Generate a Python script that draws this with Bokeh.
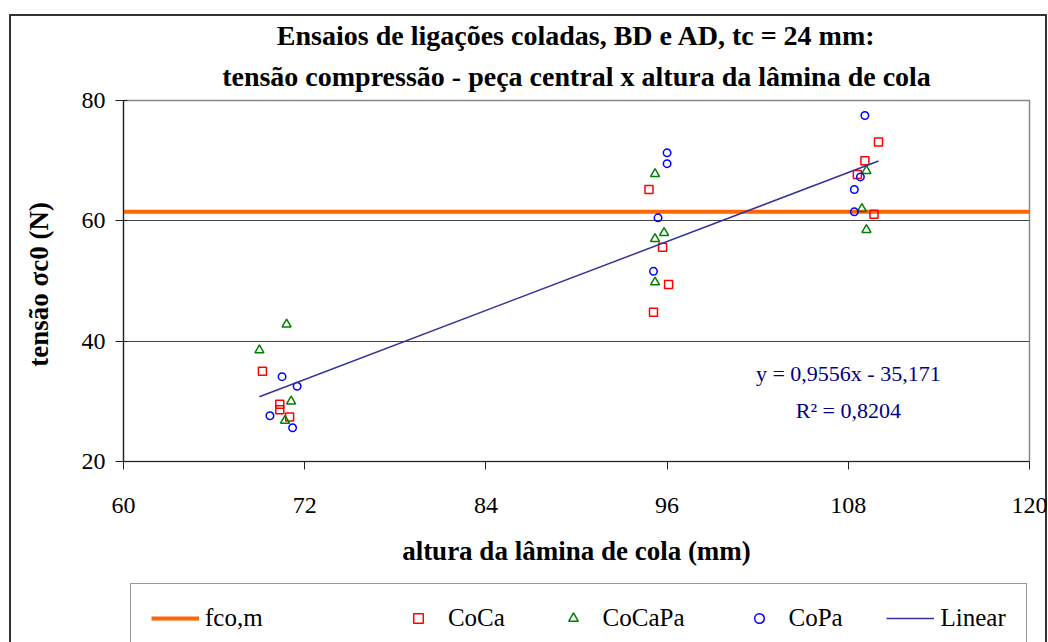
import numpy as np
from bokeh.plotting import figure
from bokeh.layouts import column
from bokeh.models import Range1d, Label, Legend, LegendItem, FixedTicker, Title
from bokeh.embed import file_html
from bokeh.resources import INLINE

# ---------------- data ----------------
title_lines = ["Ensaios de ligações coladas, BD e AD, tc = 24 mm:",
               "tensão compressão - peça central x altura da lâmina de cola"]
x_label = "altura da lâmina de cola (mm)"
y_label = "tensão σc0  (N)"
series_names = ["fco,m", "CoCa", "CoCaPa", "CoPa", "Linear"]

coca_x = [69.2, 70.35, 70.35, 71.0, 94.8, 95.7, 96.1, 95.1, 110.0, 109.1, 108.6, 109.7]
coca_y = [35.0, 29.5, 28.6, 27.4, 65.2, 55.6, 49.4, 44.8, 73.1, 70.0, 67.7, 61.1]
cocapa_x = [70.8, 69.0, 71.1, 70.7, 95.2, 95.8, 95.2, 95.2, 109.2, 108.9, 109.2]
cocapa_y = [42.8, 38.5, 30.0, 26.8, 67.8, 58.0, 57.0, 49.8, 68.3, 62.0, 58.5]
copa_x = [70.5, 71.5, 69.7, 71.2, 96.0, 96.0, 95.4, 95.1, 109.1, 108.8, 108.4, 108.4]
copa_y = [34.1, 32.5, 27.6, 25.6, 71.3, 69.5, 60.5, 51.6, 77.5, 67.3, 65.2, 61.5]
fco_m = 61.5
slope = 0.9556
intercept = -35.171
r2 = 0.8204
x_ticks = [60, 72, 84, 96, 108, 120]
y_ticks = [20, 40, 60, 80]
x_lo, x_hi = 60, 120
y_lo, y_hi = 20, 80

SERIF = "Liberation Serif"
LINE = "linear-gradient(#333,#333)"

# outer chart frame drawn as CSS background lines behind the (transparent) canvases
css_top = {
    "background-image": f"{LINE}, {LINE}, {LINE}",
    "background-size": "2px 700px, 1038px 2px, 2px 700px",
    "background-position": "9px 14px, 9px 14px, 1045px 14px",
    "background-repeat": "no-repeat",
}
css_bottom = {
    "background-image": f"{LINE}, {LINE}",
    "background-size": "2px 200px, 2px 200px",
    "background-position": "9px 0px, 1045px 0px",
    "background-repeat": "no-repeat",
}

p = figure(width=1048, height=575, output_backend="svg", toolbar_location=None,
           x_range=Range1d(x_lo, x_hi), y_range=Range1d(y_lo, y_hi),
           min_border_left=123, min_border_right=19, min_border_top=100, min_border_bottom=114,
           styles=css_top)
p.background_fill_color = "white"
p.border_fill_alpha = 0
p.outline_line_color = "#888888"
p.outline_line_width = 1.5

# titles (p.title = first line; the added Title sits between it and the plot)
p.title.text = title_lines[0]
p.title.align = "center"
p.title.text_font = SERIF
p.title.text_font_size = "28px"
p.title.text_font_style = "bold"
p.title.text_color = "black"
p.title.standoff = 0
p.add_layout(Title(text=title_lines[1], align="center", text_font=SERIF, text_font_size="28px",
                   text_font_style="bold", text_color="black", standoff=17), "above")

# axes
for ax in (p.xaxis, p.yaxis):
    ax.axis_line_color = "#222222"
    ax.axis_line_width = 1.2
    ax.major_tick_line_color = "#222222"
    ax.major_tick_out = 8
    ax.minor_tick_line_color = None
    ax.major_label_text_font = SERIF
    ax.major_label_text_font_size = "24px"
    ax.major_label_text_color = "black"
    ax.axis_label_text_font = SERIF
    ax.axis_label_text_font_style = "bold"
    ax.axis_label_text_font_size = "27px"
    ax.axis_label_text_color = "black"
p.xaxis.ticker = FixedTicker(ticks=x_ticks)
p.yaxis.ticker = FixedTicker(ticks=y_ticks)
p.xaxis.major_tick_in = 0
p.yaxis.major_tick_in = 4
p.xaxis.major_label_standoff = 28
p.yaxis.major_label_standoff = 10
p.xaxis.axis_label = x_label
p.yaxis.axis_label = y_label
p.xaxis.axis_label_standoff = 20
p.yaxis.axis_label_standoff = 25

p.xgrid.grid_line_color = None
p.ygrid.ticker = FixedTicker(ticks=y_ticks)
p.ygrid.grid_line_color = "#444444"
p.ygrid.grid_line_width = 1

# series
styles = {
    "fco": dict(line_color="#FF6600", line_width=4),
    "coca": dict(marker="square", size=8, fill_color=None, line_color="#FF0000", line_width=1.5),
    "cocapa": dict(marker="triangle", size=9, fill_color=None, line_color="#008000", line_width=1.5),
    "copa": dict(marker="circle", size=7.5, fill_color=None, line_color="#0000FF", line_width=1.5),
    "lin": dict(line_color="#333399", line_width=1.5),
}
all_x = np.array(coca_x + cocapa_x + copa_x)
lx = np.array([all_x.min(), all_x.max()])
ly = slope * lx + intercept


def draw(fig):
    return [
        fig.line(x=[x_lo, x_hi], y=[fco_m, fco_m], **styles["fco"]),
        fig.scatter(coca_x, coca_y, **styles["coca"]),
        fig.scatter(cocapa_x, cocapa_y, **styles["cocapa"]),
        fig.scatter(copa_x, copa_y, **styles["copa"]),
        fig.line(lx, ly, **styles["lin"]),
    ]


draw(p)

# equation text
eq = f"y = {slope:.4f}x - {abs(intercept):.3f}".replace(".", ",")
r2t = f"R² = {r2:.4f}".replace(".", ",")
for txt, yy in ((eq, 34.6), (r2t, 28.5)):
    p.add_layout(Label(x=108.0, y=yy, text=txt, text_align="center", text_baseline="middle",
                       text_font=SERIF, text_font_size="22px", text_color="#000080"))

# legend strip: a second, axis-less figure whose (off-range) renderers feed the legend
leg = figure(width=1048, height=67, output_backend="svg", toolbar_location=None,
             x_range=Range1d(0, 1), y_range=Range1d(0, 1),
             x_axis_location=None, y_axis_location=None,
             min_border_left=123, min_border_right=19, min_border_top=0, min_border_bottom=0,
             styles=css_bottom)
leg.grid.grid_line_color = None
leg.outline_line_color = None
leg.background_fill_alpha = 0
leg.border_fill_alpha = 0
leg_renderers = draw(leg)

NB = "\u00a0"
pads = [21, 7, 8, 7, 0]
items = [LegendItem(label=n + NB * k, renderers=[r])
         for n, k, r in zip(series_names, pads, leg_renderers)]
lg = Legend(items=items, location=(7, -11), orientation="horizontal", glyph_width=48,
            glyph_height=24, label_standoff=6, label_height=24, label_text_font=SERIF,
            label_text_font_size="25px", label_text_color="black", margin=0, spacing=0,
            padding=20, border_line_color="#333333", border_line_width=1.2,
            background_fill_color="white", background_fill_alpha=1)
leg.add_layout(lg)

open("out.html", "w").write(file_html(column(p, leg), INLINE))
